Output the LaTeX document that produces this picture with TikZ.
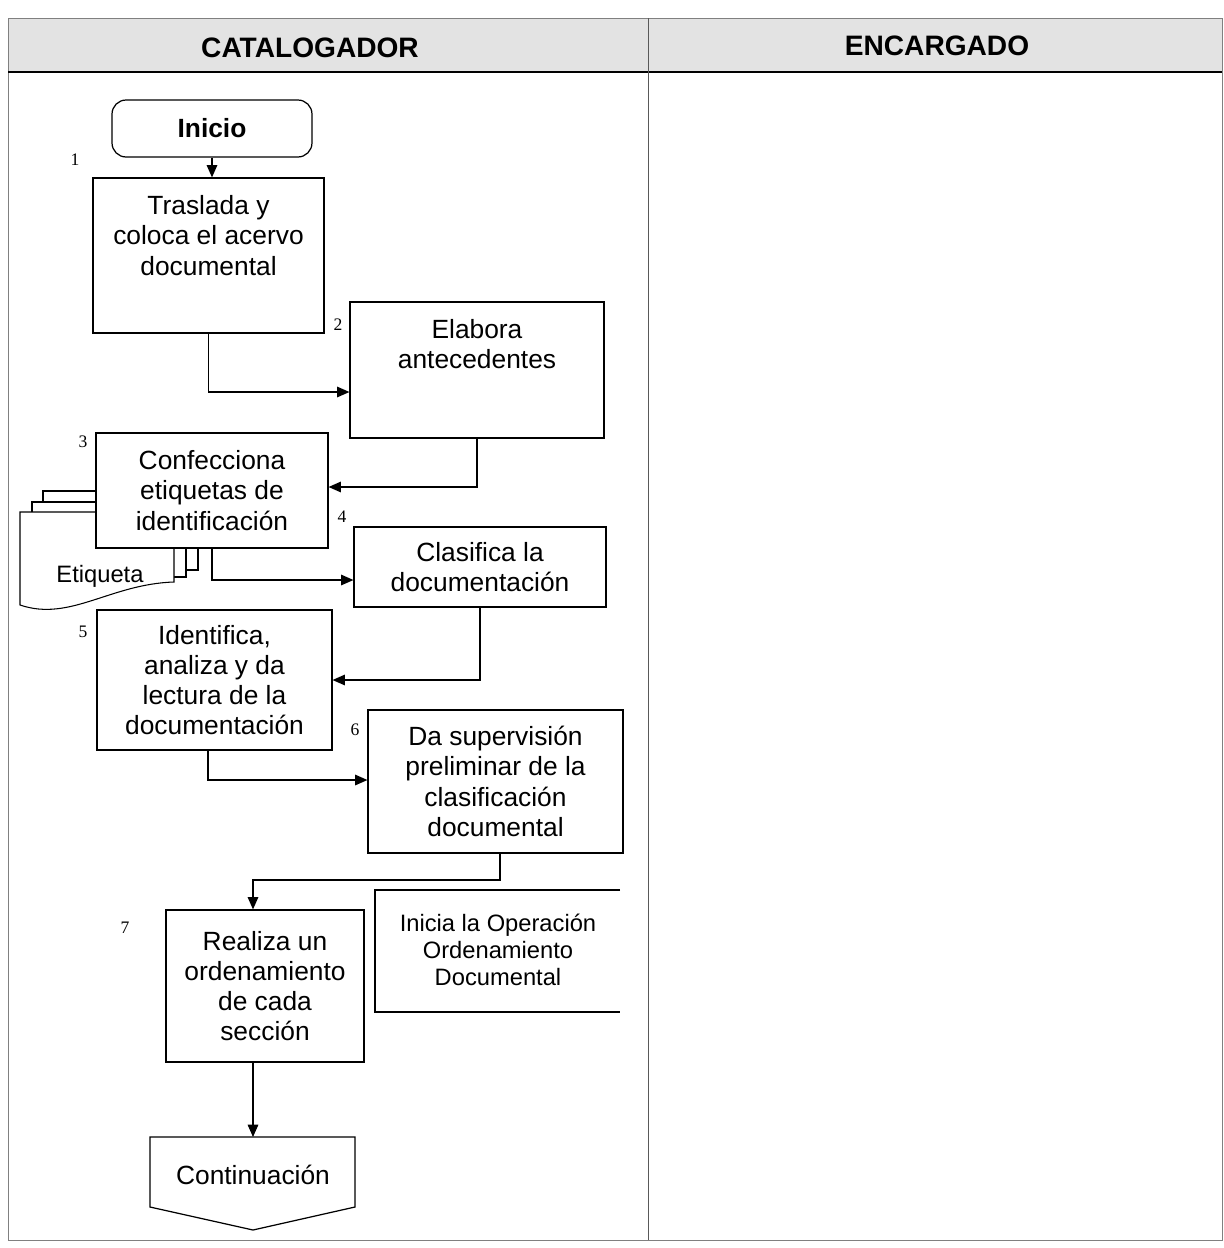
\documentclass[tikz,border=0pt]{standalone}
\usepackage{fontspec}
\setmainfont{Liberation Sans}
\newfontfamily\numfont{Liberation Serif}
\usetikzlibrary{arrows.meta}
\begin{document}
\begin{tikzpicture}[x=0.02cm,y=-0.02cm,
  stepbox/.style={draw,fill=white,line width=0.7pt,align=center,
    font=\fontsize{15}{17.2}\selectfont},
  toptext/.style={align=center,anchor=north,yshift=-0.24cm,
    font=\fontsize{15}{17.2}\selectfont},
  flow/.style={-{Triangle[length=7pt,width=6pt]},line width=0.7pt},
  num/.style={font=\numfont\fontsize{10}{12}\selectfont},
  lane/.style={font=\bfseries\fontsize{16}{18}\selectfont}]
\useasboundingbox (0,0) rectangle (1224,1248);

% swimlanes
\fill[gray!22] (8,18) rectangle (1222,72);
\draw[line width=0.5pt,gray] (8,18) rectangle (1222,1240);
\draw[line width=1.2pt] (8,72) -- (1222,72);
\draw[line width=0.5pt,gray!70!black] (648,18) -- (648,1240);
\node[lane] (cat) at (310,48) {CATALOGADOR};
\node[lane] (enc) at (937,46) {ENCARGADO};

\node[stepbox,rounded corners=8pt,minimum width=4cm,minimum height=1.14cm,
  font=\bfseries\fontsize{15}{17}\selectfont] (start) at (212,128.5) {Inicio};

\node[stepbox,minimum width=4.62cm,minimum height=3.1cm,
  label={[toptext]north:{Traslada y\\coloca el acervo\\documental}}] (b1) at (208.5,255.5) {};
\node[stepbox,minimum width=5.08cm,minimum height=2.72cm,
  label={[toptext]north:{Elabora\\antecedentes}}] (b2) at (477,370) {};

% etiquetas
\draw[line width=0.6pt,fill=white] (43,491) rectangle (198,570);
\draw[line width=0.6pt,fill=white] (32,502) rectangle (186,577);
\draw[line width=0.6pt,fill=white] (20,512) -- (174,512) -- (174,582)
  .. controls (110,584) and (70,622) .. (20,605) -- cycle;
\node[font=\fontsize{13.5}{15}\selectfont] (etq) at (100,576) {Etiqueta};

\node[stepbox,minimum width=4.64cm,minimum height=2.3cm] (b3) at (212,490.5)
  {Confecciona\\etiquetas de\\identificación};
\node[stepbox,minimum width=5.04cm,minimum height=1.6cm] (b4) at (480,567)
  {Clasifica la\\documentación};
\node[stepbox,minimum width=4.7cm,minimum height=2.8cm] (b5) at (214.5,680)
  {Identifica,\\analiza y da\\lectura de la\\documentación};
\node[stepbox,minimum width=5.1cm,minimum height=2.86cm] (b6) at (495.5,781.5)
  {Da supervisión\\preliminar de la\\clasificación\\documental};
\node[stepbox,minimum width=3.96cm,minimum height=3.04cm] (b7) at (265,986)
  {Realiza un\\ordenamiento\\de cada\\sección};

\draw[line width=0.6pt] (620,890) -- (375,890) -- (375,1012) -- (620,1012);
\node[align=center,font=\fontsize{13.5}{15.4}\selectfont] (ann) at (498,950)
  {Inicia la Operación\\Ordenamiento\\Documental};

\draw[line width=0.7pt,fill=white] (150,1137) -- (355,1137) -- (355,1207)
  -- (253,1230) -- (150,1207) -- cycle;
\coordinate (conttop) at (253,1137);
\node[font=\fontsize{15}{17}\selectfont] (cont) at (253,1175) {Continuación};

\node[num] (n1) at (75,160) {1};
\node[num] (n2) at (338,325) {2};
\node[num] (n3) at (83,442) {3};
\node[num] (n4) at (342,517) {4};
\node[num] (n5) at (83,632) {5};
\node[num] (n6) at (355,730) {6};
\node[num] (n7) at (125,928) {7};

\draw[flow] (start.south) -- (b1.north -| start.south);
\draw[flow] (b1.south) |- (b2.west |- 0,392);
\draw[flow] (b2.south) |- (b3.east |- 0,487);
\draw[flow] (b3.south) |- (b4.west |- 0,580);
\draw[flow] (b4.south) |- (b5.east);
\draw[flow] (b5.south -| 208,0) |- (b6.west |- 0,780);
\draw[flow] (b6.south -| 500,0) -- (500,880) -| (b7.north -| 253,0);
\draw[flow] (b7.south -| 253,0) -- (conttop);
\end{tikzpicture}
\end{document}
